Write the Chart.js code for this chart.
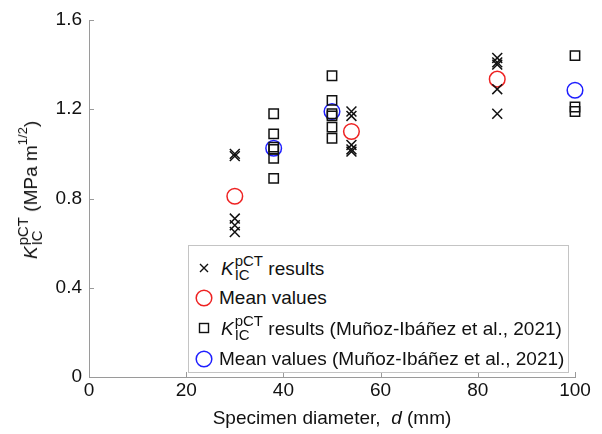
<!DOCTYPE html>
<html>
<head>
<meta charset="utf-8">
<script src="https://cdn.jsdelivr.net/npm/chart.js@4/dist/chart.umd.min.js"></script>
<style>
  body { margin: 0; background: #fff; }
  #wrap { position: relative; width: 602px; height: 434px; font-family: "Liberation Sans", Arial, sans-serif; color: #111; }
  #chart { position: absolute; left: 0; top: 0; }
  .ss { display: inline-flex; flex-direction: column; font-size: 15px; line-height: 14px; vertical-align: 9px; margin-left: 1px; font-style: normal; }
  .ss span { display: block; }
  #ytitle { position: absolute; left: 30px; top: 190px; transform: translate(-50%, -50%) rotate(-90deg); white-space: nowrap; font-size: 19px; }
  #ytitle sup { font-size: 13px; vertical-align: 10px; line-height: 0; }
  #xtitle { position: absolute; left: 332px; top: 418px; transform: translate(-50%, -50%); white-space: nowrap; font-size: 19px; }
  #legend { position: absolute; left: 188px; top: 245px; width: 379px; height: 126px; border: 1px solid #c4c4c4; background: #fff; font-size: 19px; }
  .row { position: absolute; left: 0; height: 30px; display: flex; align-items: center; white-space: nowrap; }
  .row svg { width: 30px; height: 30px; flex: none; }
</style>
</head>
<body>
<div id="wrap">
  <canvas id="chart" width="602" height="434"></canvas>
  <div id="ytitle"><i>K</i><span class="ss"><span>pCT</span><span>IC</span></span> (MPa m<sup>1/2</sup>)</div>
  <div id="xtitle">Specimen diameter,&nbsp; <i>d</i> (mm)</div>
  <div id="legend">
    <div class="row" style="top:7px"><svg viewBox="0 0 30 30"><path d="M11 11 L19 19 M19 11 L11 19" stroke="#111" stroke-width="1.4"/></svg><span style="margin-left:2px"><i>K</i><span class="ss"><span>pCT</span><span>IC</span></span> results</span></div>
    <div class="row" style="top:37px"><svg viewBox="0 0 30 30"><circle cx="15" cy="15" r="7.8" fill="none" stroke="#ee2222" stroke-width="1.5"/></svg><span>Mean values</span></div>
    <div class="row" style="top:67px"><svg viewBox="0 0 30 30"><rect x="10.5" y="10.5" width="9" height="9" fill="none" stroke="#111" stroke-width="1.4"/></svg><span style="margin-left:2px"><i>K</i><span class="ss"><span>pCT</span><span>IC</span></span> results (Muñoz-Ibáñez et al., 2021)</span></div>
    <div class="row" style="top:98px"><svg viewBox="0 0 30 30"><circle cx="15" cy="15" r="7.8" fill="none" stroke="#1f1fff" stroke-width="1.5"/></svg><span>Mean values (Muñoz-Ibáñez et al., 2021)</span></div>
  </div>
</div>
<script>
// tick values
const xTicks = [0, 20, 40, 60, 80, 100];
const yTicks = [0, 0.4, 0.8, 1.2, 1.6];

// this study: individual results and means
const ourD = [30, 30, 30, 30, 30, 54, 54, 54, 54, 54, 84, 84, 84, 84, 84];
const ourK = [1.0, 0.99, 0.71, 0.68, 0.65, 1.19, 1.17, 1.04, 1.02, 1.01, 1.43, 1.41, 1.40, 1.29, 1.18];
const ourMeanD = [30, 54, 84];
const ourMeanK = [0.81, 1.10, 1.335];

// Muñoz-Ibáñez et al., 2021
const refD = [38, 38, 38, 38, 38, 38, 50, 50, 50, 50, 50, 50, 100, 100, 100];
const refK = [1.18, 1.09, 1.03, 1.02, 0.98, 0.89, 1.35, 1.24, 1.18, 1.17, 1.12, 1.07, 1.44, 1.21, 1.19];
const refMeanD = [38, 50, 100];
const refMeanK = [1.025, 1.19, 1.285];

function toPoints(xs, ys) {
    return xs.map((x, i) => ({ x: x, y: ys[i] }));
}

// small ticks pointing into the plot area
const innerTicks = {
    id: 'innerTicks',
    afterDatasetsDraw(chart) {
        const { ctx, chartArea, scales } = chart;
        ctx.save();
        ctx.strokeStyle = '#9a9a9a';
        ctx.lineWidth = 1;
        ctx.beginPath();
        scales.x.ticks.forEach(t => {
            const px = Math.round(scales.x.getPixelForValue(t.value)) + 0.5;
            ctx.moveTo(px, chartArea.bottom);
            ctx.lineTo(px, chartArea.bottom - 5);
        });
        scales.y.ticks.forEach(t => {
            const py = Math.round(scales.y.getPixelForValue(t.value)) + 0.5;
            ctx.moveTo(chartArea.left, py);
            ctx.lineTo(chartArea.left + 5, py);
        });
        ctx.stroke();
        ctx.restore();
    }
};

const tickFont = { family: '"Liberation Sans", Arial, sans-serif', size: 19 };

new Chart(document.getElementById('chart').getContext('2d'), {
    type: 'scatter',
    data: {
        datasets: [
            {
                label: 'results',
                data: toPoints(ourD, ourK),
                pointStyle: 'crossRot',
                radius: 7,
                borderColor: '#111',
                borderWidth: 1.5,
                clip: false
            },
            {
                label: 'Mean values',
                data: toPoints(ourMeanD, ourMeanK),
                pointStyle: 'circle',
                radius: 7.8,
                borderColor: '#ee2222',
                backgroundColor: 'rgba(0,0,0,0)',
                borderWidth: 1.5,
                clip: false
            },
            {
                label: 'results (Muñoz-Ibáñez et al., 2021)',
                data: toPoints(refD, refK),
                pointStyle: 'rect',
                radius: 6.6,
                borderColor: '#111',
                backgroundColor: 'rgba(0,0,0,0)',
                borderWidth: 1.5,
                clip: false
            },
            {
                label: 'Mean values (Muñoz-Ibáñez et al., 2021)',
                data: toPoints(refMeanD, refMeanK),
                pointStyle: 'circle',
                radius: 7.8,
                borderColor: '#1f1fff',
                backgroundColor: 'rgba(0,0,0,0)',
                borderWidth: 1.5,
                clip: false
            }
        ]
    },
    options: {
        responsive: false,
        animation: false,
        devicePixelRatio: 1,
        layout: { padding: { top: 20, right: 27, left: 0, bottom: 0 } },
        plugins: { legend: { display: false }, tooltip: { enabled: false } },
        scales: {
            x: {
                type: 'linear',
                min: 0,
                max: 100,
                afterBuildTicks: s => { s.ticks = xTicks.map(v => ({ value: v })); },
                afterFit: s => { s.height = 57; },
                ticks: { color: '#111', font: tickFont, padding: 2, maxRotation: 0 },
                grid: { drawOnChartArea: false, drawTicks: false },
                border: { color: '#9a9a9a' }
            },
            y: {
                type: 'linear',
                min: 0,
                max: 1.6,
                afterBuildTicks: s => { s.ticks = yTicks.map(v => ({ value: v })); },
                afterFit: s => { s.width = 89; },
                ticks: { color: '#111', font: tickFont, padding: 7, callback: v => String(v) },
                grid: { drawOnChartArea: false, drawTicks: false },
                border: { color: '#9a9a9a' }
            }
        }
    },
    plugins: [innerTicks]
});
</script>
</body>
</html>
